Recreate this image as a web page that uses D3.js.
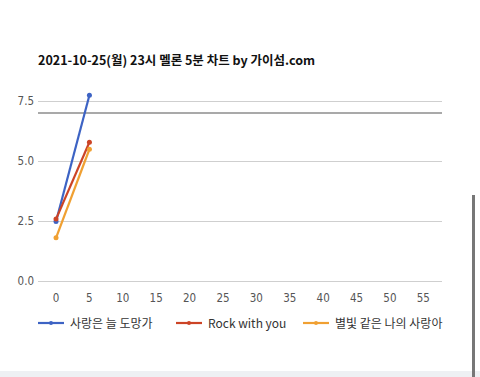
<!DOCTYPE html>
<html>
<head>
<meta charset="utf-8">
<script src="https://cdn.jsdelivr.net/npm/d3@7"></script>
<style>
  html, body { margin: 0; padding: 0; background: #fff; overflow: hidden; }
  body { width: 480px; height: 377px; font-family: "Noto Sans CJK KR", "Noto Sans", sans-serif; }
</style>
</head>
<body>
<svg id="chart" width="480" height="377"></svg>
<script>
const title = "2021-10-25(월) 23시 멜론 5분 차트 by 가이섬.com";
const minutes = [0, 5];
const seriesNames = ["사랑은 늘 도망가", "Rock with you", "별빛 같은 나의 사랑아"];
const seriesColors = ["#3d63c4", "#cc4426", "#f0a032"];
const love = [2.48, 7.74];
const rock = [2.58, 5.78];
const starlight = [1.8, 5.49];
const yTicks = [0, 2.5, 5, 7.5];
const xTicks = [0, 5, 10, 15, 20, 25, 30, 35, 40, 45, 50, 55];
const refLine = 7.0;

const series = [love, rock, starlight].map((vals, i) => ({
  name: seriesNames[i],
  color: seriesColors[i],
  points: vals.map((v, j) => ({ x: minutes[j], y: v }))
}));

const svg = d3.select("#chart");
const plot = { left: 38, right: 442, top: 101, bottom: 281 };

const x = d3.scaleLinear().domain([-2.7, 57.8]).range([plot.left, plot.right]);
const y = d3.scaleLinear().domain([0, 7.5]).range([plot.bottom, plot.top]);

// title
svg.append("text")
  .attr("x", 38).attr("y", 65)
  .attr("font-size", 12.5).attr("font-weight", "bold")
  .attr("fill", "#111")
  .text(title);

// grid
svg.append("g").selectAll("line").data(yTicks).join("line")
  .attr("x1", plot.left).attr("x2", plot.right)
  .attr("y1", d => y(d) + 0.5).attr("y2", d => y(d) + 0.5)
  .attr("stroke", "#cfcfcf").attr("stroke-width", 1);

svg.append("line")
  .attr("x1", plot.left).attr("x2", plot.right)
  .attr("y1", y(refLine)).attr("y2", y(refLine))
  .attr("stroke", "#8c8c8c").attr("stroke-width", 1.5);

// y labels
svg.append("g").selectAll("text").data(yTicks).join("text")
  .attr("x", 34).attr("y", d => y(d) + 4)
  .attr("text-anchor", "end")
  .attr("font-size", 11.5).attr("fill", "#555")
  .attr("font-family", "'Liberation Sans Narrow', 'DejaVu Sans Condensed', sans-serif")
  .text(d => d.toFixed(1));

// x labels
svg.append("g").selectAll("text").data(xTicks).join("text")
  .attr("x", d => x(d)).attr("y", 302)
  .attr("text-anchor", "middle")
  .attr("font-size", 11.5).attr("fill", "#555")
  .attr("font-family", "'Liberation Sans Narrow', 'DejaVu Sans Condensed', sans-serif")
  .text(d => d);

// lines
const line = d3.line().x(d => x(d.x)).y(d => y(d.y));
const g = svg.append("g");
series.forEach(s => {
  g.append("path").datum(s.points)
    .attr("d", line).attr("fill", "none")
    .attr("stroke", s.color).attr("stroke-width", 2.2);
  g.selectAll(null).data(s.points).join("circle")
    .attr("cx", d => x(d.x)).attr("cy", d => y(d.y)).attr("r", 2.5)
    .attr("fill", s.color);
});

// legend
const legendX = [38, 176, 303];
const leg = svg.append("g").selectAll("g").data(series).join("g")
  .attr("transform", (d, i) => `translate(${legendX[i]},323)`);
leg.append("line").attr("x1", 0).attr("x2", 26)
  .attr("stroke", d => d.color).attr("stroke-width", 2.2);
leg.append("circle").attr("cx", 13).attr("r", 2).attr("fill", d => d.color);
leg.append("text").attr("x", 32).attr("y", 4.5)
  .attr("font-size", 12).attr("fill", "#333")
  .text(d => d.name);

// page chrome: bottom strip and scrollbar
svg.append("rect").attr("x", 0).attr("y", 371).attr("width", 480).attr("height", 6).attr("fill", "#eef0f3");
svg.append("rect").attr("x", 472).attr("y", 195).attr("width", 3).attr("height", 182).attr("fill", "#777");
</script>
</body>
</html>
